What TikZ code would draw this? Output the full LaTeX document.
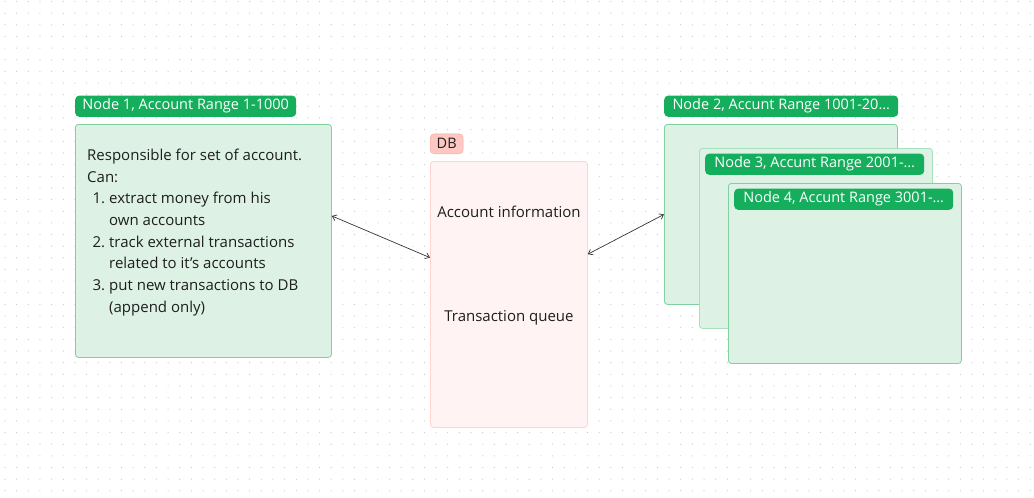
\documentclass[tikz,border=0pt]{standalone}
\usepackage{fontspec}
\setmainfont{Open Sans}
\usetikzlibrary{arrows.meta}
\definecolor{taggreen}{HTML}{14AE5C}
\definecolor{boxgreen}{HTML}{DDF2E5}
\definecolor{linegreen}{HTML}{80D19F}
\definecolor{paleline}{HTML}{A8DFBD}
\definecolor{dbfill}{HTML}{FFF4F3}
\definecolor{dbline}{HTML}{FFD3CE}
\definecolor{dbtag}{HTML}{FFC7C2}
\definecolor{dbtagline}{HTML}{EEA9A2}
\definecolor{ink}{HTML}{1E1E1E}
\begin{document}
\begin{tikzpicture}[
x=1pt, y=-1pt,
every node/.style={font=\fontsize{15}{21.7}\selectfont, text=ink},
rangebox/.style={rectangle, rounded corners=3pt, draw=linegreen, fill=boxgreen, line width=0.8pt, anchor=north west},
rangetag/.style={rectangle, rounded corners=4pt, fill=taggreen, text=white, font=\fontsize{14.5}{17}\selectfont, minimum height=21pt, inner xsep=6pt, anchor=south west},
storebox/.style={rectangle, rounded corners=3pt, draw=dbline, fill=dbfill, line width=0.8pt, anchor=north west},
storetag/.style={rectangle, rounded corners=4pt, draw=dbtagline, fill=dbtag, font=\fontsize{14.5}{17}\selectfont, minimum height=20pt, inner xsep=6pt, anchor=south west},
link/.style={{Straight Barb[length=4pt,width=6pt]}-{Straight Barb[length=4pt,width=6pt]}, draw=ink!90, line width=0.7pt},
]
\useasboundingbox (0,0) rectangle (1034,498);
\fill[white] (0,0) rectangle (1034,498);
\foreach \i in {0,...,88}
    \foreach \j in {0,...,42}
        \fill[black!22] (5+\i*11.65, 1.5+\j*11.65) circle (0.6pt);

\node[rangebox, minimum width=256pt, minimum height=233pt] (n1box) at (75,124) {};
\node[rangetag, minimum width=221pt] (n1tag) at (75,117) {Node 1, Account Range 1-1000};
\node[anchor=north west, inner sep=0pt, align=left] (n1text) at (87,145) {%
    \begin{tabular}{@{}r@{\hspace{4pt}}l@{}}
    \multicolumn{2}{@{}l@{}}{Responsible for set of account.}\\
    \multicolumn{2}{@{}l@{}}{Can:}\\
    \makebox[18pt][r]{1.} & extract money from his\\
       & own accounts\\
    2. & track external transactions\\
       & related to it’s accounts\\
    3. & put new transactions to DB\\
       & (append only)
    \end{tabular}};

\node[storebox, minimum width=157pt, minimum height=266pt] (dbbox) at (430,161) {};
\node[storetag, minimum width=33pt] (dbtagnode) at (430,154) {DB};
\node (accinfo) at (509,212) {Account information};
\node (txqueue) at (509,318) {Transaction queue};

\node[rangebox, minimum width=233pt, minimum height=180pt] (n2box) at (664,124) {};
\node[rangetag, minimum width=234pt] (n2tag) at (664,117) {Node 2, Accunt Range 1001-20…};
\node[rangebox, draw=paleline, minimum width=233pt, minimum height=180pt] (n3box) at (699,148) {};
\node[rangetag, minimum width=219pt] (n3tag) at (705,175) {Node 3, Accunt Range 2001-…};
\node[rangebox, minimum width=233pt, minimum height=180pt] (n4box) at (728,183) {};
\node[rangetag, minimum width=219pt] (n4tag) at (734,210) {Node 4, Accunt Range 3001-…};

\draw[link] (n1box.11.7) -- (dbbox.155.7);
\draw[link] (dbbox.27.6) -- (n2box.west);
\end{tikzpicture}
\end{document}
